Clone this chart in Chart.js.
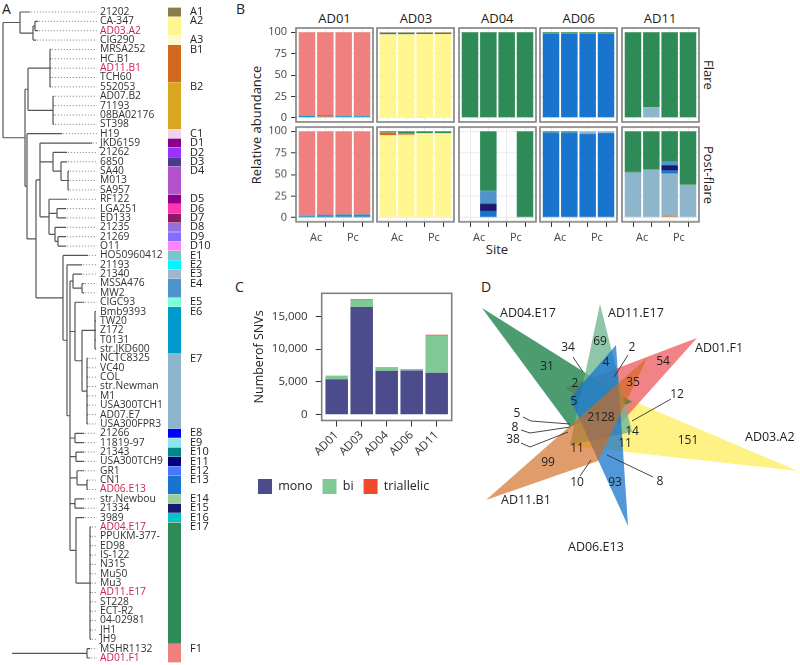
<!DOCTYPE html>
<html><head><meta charset="utf-8">
<script src="https://cdn.jsdelivr.net/npm/chart.js@4.4.1/dist/chart.umd.min.js"></script>
<style>
html,body{margin:0;padding:0;background:#fff}
body{width:800px;height:665px;position:relative;overflow:hidden;font-family:'Open Sans',sans-serif;color:#222}
canvas{position:absolute}
.t{position:absolute;white-space:nowrap;line-height:1}
.c{transform:translate(-50%,-50%)}
</style></head><body>
<div class="t" style="left:2px;top:2px;font-size:14px">A</div>
<div class="t" style="left:236px;top:2px;font-size:14px">B</div>
<div class="t" style="left:235px;top:280px;font-size:14px">C</div>
<div class="t" style="left:481px;top:280px;font-size:14px">D</div>
<div id="labels"></div>
<script>
// ---------------- DATA ----------------
// Panel A: leaves (top to bottom)
const leafNames = ['21202','CA-347','AD03.A2','CIG290','MRSA252','HC.B1','AD11.B1','TCH60','552053','AD07.B2','71193','08BA02176','ST398','H19','JKD6159','21262','6850','SA40','M013','SA957','RF122','LGA251','ED133','21235','21269','O11','HO50960412','21193','21340','MSSA476','MW2','CIGC93','Bmb9393','TW20','Z172','T0131','str.JKD600','NCTC8325','VC40','COL','str.Newman','M1','USA300TCH1','AD07.E7','USA300FPR3','21266','11819-97','21343','USA300TCH9','GR1','CN1','AD06.E13','str.Newbou','21334','3989','AD04.E17','PPUKM-377-','ED98','IS-122','N315','Mu50','Mu3','AD11.E17','ST228','ECT-R2','04-02981','JH1','JH9','MSHR1132','AD01.F1'];
const highlightedLeaves = ['AD03.A2','AD11.B1','AD06.E13','AD04.E17','AD11.E17','AD01.F1'];
// tree topology with branch lengths (Newick)
const cladeA = "(21202:10,((CA-347:3,AD03.A2:3):2,CIG290:3):13):17";
const cladeB = "((MRSA252:1,HC.B1:1,AD11.B1:1,TCH60:1,552053:1):22,(AD07.B2:1,71193:1,08BA02176:1,ST398:1):25):3";
const cladeDa = "(21262:14,(6850:6,(SA40:1,M013:1,SA957:1):7):8):13";
const cladeDb = "(RF122:18,(LGA251:9,ED133:9):8,(21235:11,(21269:8,O11:8):3):6):9";
const cladeD = "(JKD6159:52," + cladeDa + "," + cladeDb + "):4";
const cladeEcore = "((21340:9,(MSSA476:2,MW2:2):9):3,(CIGC93:9,((Bmb9393:1,TW20:1,Z172:1,T0131:1,str.JKD600:1):13,(NCTC8325:1,VC40:1,COL:1,str.Newman:1,M1:1,USA300TCH1:1,AD07.E7:1,USA300FPR3:1):5):7):5,(21266:9,11819-97:9):5,(21343:8,USA300TCH9:8):6,(GR1:7,(CN1:1,AD06.E13:1):10):7,(str.Newbou:9,21334:9):5,(3989:8,(AD04.E17:1,PPUKM-377-:1,ED98:1,IS-122:1,N315:1,Mu50:1,Mu3:1,AD11.E17:1,ST228:1,ECT-R2:1,04-02981:1,JH1:1,JH9:1):14):6):3";
const cladeE = "(HO50960412:25,(21193:15," + cladeEcore + "):4):27";
const cladeC = "(H19:35,(" + cladeD + "," + cladeE + "):9):2";
const mainTree = "(" + cladeA + ",(" + cladeB + "," + cladeC + "):22);";
const outgroupTree = "(MSHR1132:3,AD01.F1:3):75;";
const treeRootStarts = [3, 12];

const cladeNames = ['A1','A2','A3','B1','B2','C1','D1','D2','D3','D4','D5','D6','D7','D8','D9','D10','E1','E2','E3','E4','E5','E6','E7','E8','E9','E10','E11','E12','E13','E14','E15','E16','E17','F1'];
const cladeFirstLeaf = [0,1,3,4,8,13,14,15,16,17,20,21,22,23,24,25,26,27,28,29,31,32,37,45,46,47,48,49,50,52,53,54,55,68];
const cladeColors = ['#8b7d4b','#fff68f','#fffacd','#d2691e','#daa520','#eed2ee','#8b008b','#9b30ff','#483d8b','#b452cd','#8b008b','#ff34b3','#8b1c62','#9370db','#836fff','#ff83fa','#7ac5cd','#00f5ff','#a2b5cd','#4f94cd','#7fffd4','#009acd','#8db6cd','#0000ff','#8ee5ee','#00868b','#000080','#4876ff','#1874cd','#9bcd9b','#191970','#00c5cd','#2e8b57','#f08080'];

// Panel B: relative abundance (%) per sample (Ac, Ac, Pc, Pc), stacked bottom to top
const facetSites = ['AD01','AD03','AD04','AD06','AD11'];
const facetTimes = ['Flare','Post-flare'];
const siteTicks = ['Ac','Pc'];
const AD01_Flare = [['B1',[0.8,1.5,0.6,0.6]],['E6',[1.2,1.5,1.2,1.2]],['F1',[98,97,98.2,98.2]]];
const AD01_Post  = [['E15',[1,1,1,1]],['E6',[1.5,2,2.5,2.5]],['F1',[97.5,97,96.5,96.5]]];
const AD03_Flare = [['A2',[97.5,97.5,98,98]],['E17',[2,2,1.5,1.5]],['F1',[0.5,0.5,0.5,0.5]]];
const AD03_Post  = [['A2',[95.5,96,98,98]],['B1',[3,1.2,0,0]],['E17',[1.5,2.8,2,2]]];
const AD04_Flare = [['E17',[100,100,100,100]]];
const AD04_Post  = [['E13',[0,7,0,0]],['E15',[0,9,0,0]],['E4',[0,15,0,0]],['E17',[0,69,0,100]]];
const AD06_Flare = [['E13',[98.5,98.5,98.5,98.5]],['E17',[1.5,1.5,1.5,1.5]]];
const AD06_Post  = [['E13',[98.5,98.5,97.5,98]],['E7',[0,0,2.5,2]],['E17',[1.5,1.5,0,0]]];
const AD11_Flare = [['E7',[0,12.5,0,0]],['E17',[100,87.5,100,100]]];
const AD11_Post  = [['E7',[52.5,55.3,1,37.6]],['B1',[0,0,1.5,0]],['E7',[0,0,48.5,0]],['E13',[0,0,3.5,0]],['E15',[0,0,6,0]],['E4',[0,0,4.6,0]],['E17',[47.5,44.7,35,62.4]]];
const facetData = [[AD01_Flare,AD01_Post],[AD03_Flare,AD03_Post],[AD04_Flare,AD04_Post],[AD06_Flare,AD06_Post],[AD11_Flare,AD11_Post]];

// Panel C: number of SNVs
const snvSamples = ['AD01','AD03','AD04','AD06','AD11'];
const snvMono = [5400,16400,6700,6750,6400];
const snvBi   = [500,1100,490,200,5650];
const snvTri  = [30,120,100,20,130];

// Panel D: six-set Venn
const vennSets = ['AD11.B1','AD06.E13','AD11.E17','AD04.E17','AD01.F1','AD03.A2'];
const vennColors = ['rgba(210,105,30,0.66)','rgba(24,116,205,0.75)','rgba(112,184,146,0.8)','rgba(46,139,87,0.85)','rgba(238,100,104,0.8)','rgba(255,240,110,0.85)'];
const vennShapes = [
  [[486,500],[647,358],[598,461]],
  [[628,526],[570,398],[616,345]],
  [[600,304],[570,445],[632,432]],
  [[482,308],[632,402],[570,427]],
  [[697,338],[565,388],[620,424]],
  [[798,471],[588,382],[572,446]]
];
const vennSetLabelPos = [[501,500],[568,547],[608,313],[500,313],[695,348],[745,437]];
const vennCounts = [31,34,69,2,54,4,2,35,5,12,2128,14,151,11,11,99,10,93,8,5,8,38];
const vennCountPos = [[547,367],[568,348],[600,342],[632,348],[663,362],[606,363],[575,384],[633,383],[574,402],[677,395],[601,418],[632,432],[688,441],[577,449],[625,444],[548,463],[577,483],[615,483],[660,482],[517,414],[515,428],[513,440]];
const vennLeaders = [[[573,357],[583,372]],[[628,355],[614,377]],[[671,399],[632,421]],[[523,417],[531,421],[570,424]],[[521,430],[530,433],[570,427]],[[521,443],[530,447],[568,432]],[[580,476],[591,460]],[[653,477],[607,455]]];

// ---------------- RENDER ----------------
Chart.defaults.font.family = "'Open Sans', sans-serif";
Chart.defaults.color = '#222';
const base = {responsive:false, animation:false, devicePixelRatio:1, events:[], plugins:{legend:{display:false}, tooltip:{enabled:false}}};
function mk(l,t,w,h){const c=document.createElement('canvas');c.width=w;c.height=h;c.style.left=l+'px';c.style.top=t+'px';c.style.width=w+'px';c.style.height=h+'px';document.body.appendChild(c);return c;}
function txt(s,x,y,size,extra){const d=document.createElement('div');d.className='t c';d.textContent=s;d.style.left=x+'px';d.style.top=y+'px';d.style.fontSize=size+'px';if(extra)d.style.transform='translate(-50%,-50%) '+extra;document.getElementById('labels').appendChild(d);}
// fix an axis size and stop it from reserving label overhang space
function fixSize(w,h){return s=>{if(w!==null)s.width=w;if(h!==null)s.height=h;s.paddingTop=0;s.paddingBottom=0;s.paddingLeft=0;s.paddingRight=0;};}
const cladeColorOf = Object.fromEntries(cladeNames.map((n,i)=>[n,cladeColors[i]]));

// Newick parser
function parseNewick(s){let i=0;function node(){const n={children:[],name:'',len:0};if(s[i]==='('){i++;n.children.push(node());while(s[i]===','){i++;n.children.push(node());}i++;}let nm='';while(i<s.length&&!',():;'.includes(s[i]))nm+=s[i++];n.name=nm.trim();if(s[i]===':'){i++;let num='';while(i<s.length&&!',();'.includes(s[i]))num+=s[i++];n.len=parseFloat(num);}return n;}return node();}
const GAP={x:null,y:null};
const LABEL_X=97;
const solid=[],dots=[];
[mainTree,outgroupTree].forEach((nw,k)=>{
  const root=parseNewick(nw);const start=treeRootStarts[k];
  (function place(n,x){n.x=x;if(n.children.length){n.children.forEach(c=>place(c,x+c.len));n.y=(n.children[0].y+n.children[n.children.length-1].y)/2;}else n.y=leafNames.indexOf(n.name);})(root,start+root.len);
  if(root.len>0)solid.push({x:start,y:root.y},{x:root.x,y:root.y},GAP);
  (function emit(n){if(n.children.length){const f=n.children[0],l=n.children[n.children.length-1];solid.push({x:n.x,y:f.y},{x:n.x,y:l.y},GAP);n.children.forEach(c=>{solid.push({x:n.x,y:c.y},{x:c.x,y:c.y},GAP);emit(c);});}else if(n.x<LABEL_X-1){dots.push({x:n.x+0.8,y:n.y},{x:LABEL_X,y:n.y},GAP);}})(root);
});
const yTop=7.3, yBot=2.3;
new Chart(mk(0,0,165,665),{type:'scatter',data:{datasets:[
  {data:solid,showLine:true,borderColor:'#555',borderWidth:1.2,pointRadius:0,spanGaps:false},
  {data:dots,showLine:true,borderColor:'#777',borderWidth:1,borderDash:[1,2],pointRadius:0,spanGaps:false}]},
  options:{...base,layout:{padding:{top:yTop,bottom:yBot,left:0,right:0}},scales:{
    x:{type:'linear',min:0,max:LABEL_X,display:false},
    y:{type:'linear',position:'right',reverse:true,min:-0.5,max:leafNames.length-0.5,grid:{display:false,drawTicks:false},border:{display:false},
      afterBuildTicks:s=>{s.ticks=leafNames.map((n,i)=>({value:i}));},afterFit:fixSize(68,null),
      ticks:{autoSkip:false,padding:3,font:{size:10.3},color:c=>highlightedLeaves.includes(leafNames[c.index])?'#c8254f':'#333',callback:(v,i)=>leafNames[i]}}}}});
// colour strip
new Chart(mk(160,0,80,665),{type:'bar',data:{labels:[''],datasets:cladeNames.map((n,k)=>({
  data:[[cladeFirstLeaf[k]-0.45,(k<cladeNames.length-1?cladeFirstLeaf[k+1]:leafNames.length)-0.55]],backgroundColor:cladeColors[k],borderWidth:0,grouped:false,barPercentage:1,categoryPercentage:1}))},
  options:{...base,layout:{padding:{top:yTop,bottom:yBot,left:8,right:0}},scales:{
    x:{display:false},
    y:{position:'right',reverse:true,min:-0.5,max:leafNames.length-0.5,grid:{display:false,drawTicks:false},border:{display:false},
      afterBuildTicks:s=>{s.ticks=cladeFirstLeaf.map(v=>({value:v}));},afterFit:fixSize(59,null),
      ticks:{autoSkip:false,padding:9,font:{size:11},color:'#222',callback:(v,i)=>cladeNames[i]}}}}});

// Panel B facets
const boxPlugin={id:'box',afterDraw(ch){const a=ch.chartArea,c=ch.ctx;c.save();c.strokeStyle='#808080';c.lineWidth=1.6;c.strokeRect(a.left,a.top,a.right-a.left,a.bottom-a.top);c.restore();}};
facetSites.forEach((site,col)=>{
  const boxL=296+col*81.4;
  txt(site,boxL+38.5,18,13);
  facetTimes.forEach((tp,row)=>{
    const boxT=27.7+row*99.5,W=77,H=94.5,pad=2;
    const axW=col===0?42:0,axH=row===1?24:0;
    const series=facetData[col][row];
    new Chart(mk(boxL-axW-pad,boxT-pad,W+axW+2*pad,H+axH+2*pad),{type:'bar',
      data:{datasets:series.map(([cl,vals])=>({label:cl,data:vals.map((v,i)=>({x:i+1,y:v})),backgroundColor:cladeColorOf[cl],borderWidth:0,barPercentage:0.9,categoryPercentage:1}))},
      options:{...base,layout:{padding:{left:pad,right:pad,top:pad,bottom:pad}},scales:{
        x:{type:'linear',stacked:true,offset:false,min:0.4,max:4.6,border:{display:false},
          afterBuildTicks:s=>{s.ticks=[1,2,3,4].map(v=>({value:v}));},afterFit:fixSize(null,row===1?5:0),
          grid:{offset:false,drawTicks:row===1,tickLength:5,color:'#ebebeb',tickColor:'#333'},
          ticks:{display:false}},
        x2:{type:'linear',position:'bottom',display:row===1,offset:false,min:0.4,max:4.6,border:{display:false},
          afterBuildTicks:s=>{s.ticks=[1.5,3.5].map(v=>({value:v}));},afterFit:fixSize(null,axH-5),
          grid:{display:false,drawTicks:false,offset:false},
          ticks:{autoSkip:false,maxRotation:0,padding:4,font:{size:11},color:'#444',callback:(v,i)=>siteTicks[i]}},
        y:{stacked:true,min:-5,max:105,border:{display:false},
          afterBuildTicks:s=>{s.ticks=[0,25,50,75,100].map(v=>({value:v}));},afterFit:fixSize(axW,null),
          grid:{color:'#ebebeb',drawTicks:col===0,tickLength:5,tickColor:'#333'},
          ticks:{display:col===0,padding:4,font:{size:11},color:'#444'}}}},
      plugins:[boxPlugin]});
  });
});
txt('Relative abundance',256,125,13,'rotate(-90deg)');
txt('Flare',708,75,13,'rotate(90deg)');
txt('Post-flare',708,175,13,'rotate(90deg)');
txt('Site',497,249,13);

// Panel C
const snvTotals=snvMono.map((v,i)=>v+snvBi[i]+snvTri[i]);
const snvMax=Math.max(...snvTotals);
const numFmt=new Intl.NumberFormat('en-US');
new Chart(mk(248,286,230,218),{type:'bar',data:{datasets:[
  {label:'mono',data:snvMono.map((v,i)=>({x:i+1,y:v})),backgroundColor:'#4c4b8c',borderWidth:0,barPercentage:0.9,categoryPercentage:1},
  {label:'bi',data:snvBi.map((v,i)=>({x:i+1,y:v})),backgroundColor:'#80c894',borderWidth:0,barPercentage:0.9,categoryPercentage:1},
  {label:'triallelic',data:snvTri.map((v,i)=>({x:i+1,y:v})),backgroundColor:'#ef4a2b',borderWidth:0,barPercentage:0.9,categoryPercentage:1}]},
  options:{...base,layout:{padding:{top:7.3,right:26.3,left:0,bottom:0}},
    plugins:{tooltip:{enabled:false},legend:{display:true,position:'bottom',align:'start',labels:{boxWidth:14,boxHeight:15,padding:10,font:{size:12.5},color:'#222'}}},
    scales:{
      x:{type:'linear',stacked:true,offset:false,min:0.4,max:snvSamples.length+0.6,border:{display:false},
        afterBuildTicks:s=>{s.ticks=snvSamples.map((n,i)=>({value:i+1}));},afterFit:fixSize(null,48.5),
        grid:{drawOnChartArea:false,offset:false,tickLength:6,tickColor:'#333'},
        ticks:{autoSkip:false,minRotation:45,maxRotation:45,padding:2,font:{size:11.5},color:'#333',callback:(v,i)=>snvSamples[i]}},
      y:{stacked:true,min:-snvMax*0.05,max:snvMax*1.05,border:{display:false},
        afterBuildTicks:s=>{s.ticks=[0,5000,10000,15000].map(v=>({value:v}));},afterFit:fixSize(73.7,null),
        grid:{drawOnChartArea:false,tickLength:6,tickColor:'#333'},
        title:{display:true,text:'Numberof SNVs',font:{size:12.5},color:'#222',padding:{top:4,bottom:2}},
        ticks:{padding:8,font:{size:11.5},color:'#333',callback:v=>numFmt.format(v)}}}},
  plugins:[boxPlugin]});

// Panel D
const leaderPts=[];vennLeaders.forEach(l=>{l.forEach(p=>leaderPts.push({x:p[0],y:p[1]}));leaderPts.push(GAP);});
const vennText={id:'vennText',afterDatasetsDraw(ch){const c=ch.ctx,xs=ch.scales.x,ys=ch.scales.y;c.save();c.fillStyle='#222';c.font="12px 'Open Sans'";c.textBaseline='middle';
  c.textAlign='center';vennCounts.forEach((v,i)=>c.fillText(String(v),xs.getPixelForValue(vennCountPos[i][0]),ys.getPixelForValue(vennCountPos[i][1])));
  c.font="12.5px 'Open Sans'";c.textAlign='left';vennSets.forEach((s,i)=>c.fillText(s,xs.getPixelForValue(vennSetLabelPos[i][0]),ys.getPixelForValue(vennSetLabelPos[i][1])));c.restore();}};
new Chart(mk(480,295,320,270),{type:'scatter',data:{datasets:[
  {data:leaderPts,showLine:true,borderColor:'#333',borderWidth:0.9,pointRadius:0,spanGaps:false,fill:false},
  ...vennShapes.map((sh,i)=>({label:vennSets[i],data:[...sh,sh[0]].map(p=>({x:p[0],y:p[1]})),showLine:true,fill:'shape',backgroundColor:vennColors[i],borderWidth:0,pointRadius:0}))]},
  options:{...base,layout:{padding:0},scales:{x:{type:'linear',min:480,max:800,display:false},y:{type:'linear',reverse:true,min:295,max:565,display:false}}},
  plugins:[vennText]});
</script>
</body></html>
